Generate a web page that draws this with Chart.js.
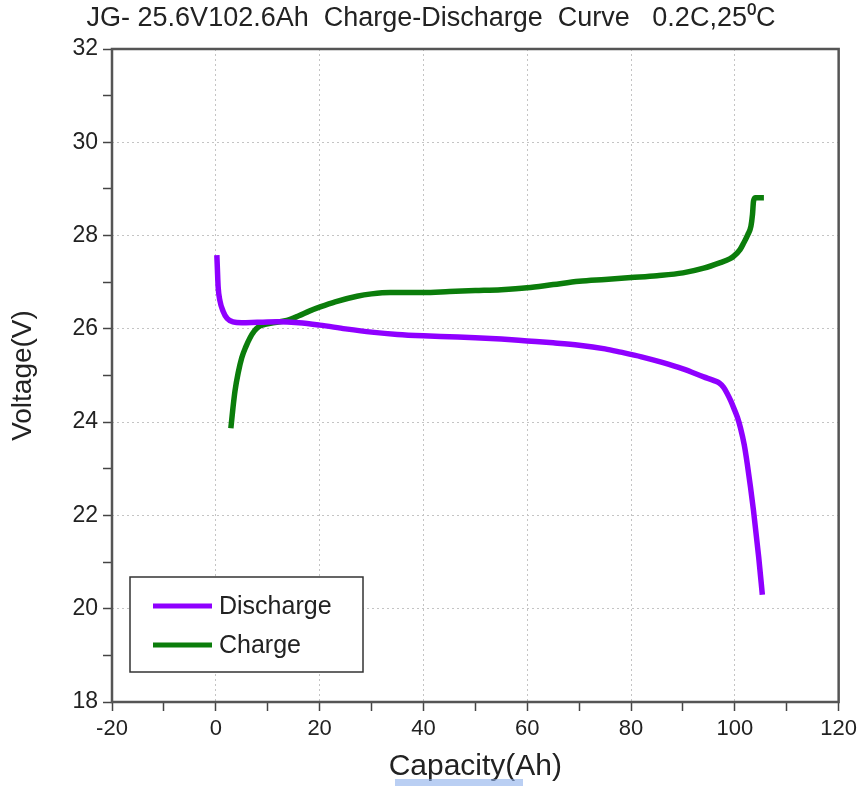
<!DOCTYPE html>
<html>
<head>
<meta charset="utf-8">
<title>JG- 25.6V102.6Ah Charge-Discharge Curve</title>
<script src="https://cdn.jsdelivr.net/npm/chart.js@4.4.0/dist/chart.umd.min.js"></script>
<style>
    html, body { margin: 0; padding: 0; background: #fff; }
    #wrap { position: relative; width: 862px; height: 789px; }
</style>
</head>
<body>
<div id="wrap"><canvas id="curveChart" width="862" height="789"></canvas></div>
<script>
// Charge / discharge curve of a 25.6V 102.6Ah pack

const chartTitle = 'JG- 25.6V102.6Ah  Charge-Discharge  Curve   0.2C,25\u2070C';
const xTitle = 'Capacity(Ah)';
const yTitle = 'Voltage(V)';

const xMin = -20, xMax = 120, xMajor = 20, xMinor = 10;
const yMin = 18, yMax = 32, yMajor = 2, yMinor = 1;

// Discharge: capacity (Ah) and voltage (V)
const dischargeCap = [0.2, 0.3, 0.45, 0.8, 1.4, 2.2, 3.3, 5, 8, 12, 16, 20, 25, 30, 35, 40, 45, 50, 55, 60,
    65, 70, 75, 78, 82, 86, 90, 94, 96, 97, 97.8, 98.5, 99.2, 99.8, 100.5, 101.1, 101.8, 102.4, 103.6, 104.6, 105.3];
const dischargeVolt = [27.58, 27.3, 26.9, 26.6, 26.38, 26.22, 26.15, 26.13, 26.14, 26.15, 26.13, 26.08, 26.0, 25.93, 25.88, 25.85, 25.83, 25.81, 25.78, 25.74,
    25.7, 25.65, 25.57, 25.5, 25.4, 25.28, 25.14, 24.97, 24.89, 24.84, 24.75, 24.62, 24.46, 24.3, 24.1, 23.87, 23.52, 23.1, 22.1, 21.1, 20.3];

// Charge: capacity (Ah) and voltage (V)
const chargeCap = [2.9, 3.3, 3.7, 4.3, 5.0, 5.8, 6.6, 7.4, 8.2, 9.3, 10.5, 13.7, 16, 18, 20.1, 23, 27.2, 30, 33.6, 40,
    45, 50, 55, 60, 65, 70, 75, 80, 85, 90, 94, 97.2, 99, 99.8, 101, 101.7, 102.5, 103.1, 103.4, 103.6, 104, 105.6];
const chargeVolt = [23.87, 24.3, 24.67, 25.05, 25.38, 25.62, 25.81, 25.95, 26.04, 26.09, 26.12, 26.18, 26.28, 26.38, 26.47, 26.58, 26.7, 26.75, 26.78, 26.78,
    26.8, 26.82, 26.84, 26.88, 26.95, 27.02, 27.06, 27.1, 27.14, 27.2, 27.3, 27.42, 27.5, 27.56, 27.7, 27.84, 28.02, 28.2, 28.45, 28.74, 28.81, 28.81];

const seriesNames = ['Discharge', 'Charge'];
const seriesColors = ['#8f00ff', '#0b7d0b'];

const FONT = "'Liberation Sans', Arial, sans-serif";

function toPoints(xs, ys) {
    return xs.map((x, i) => ({ x: x, y: ys[i] }));
}

// Title across the top of the canvas
const titlePlugin = {
    id: 'topTitle',
    afterDraw(chart) {
        const ctx = chart.ctx;
        ctx.save();
        ctx.fillStyle = '#222';
        ctx.font = '27px ' + FONT;
        ctx.textAlign = 'center';
        ctx.textBaseline = 'middle';
        ctx.fillText(chartTitle, 431, 19);
        // light blue spell-check mark under the x title
        ctx.fillStyle = 'rgba(140, 175, 235, 0.6)';
        ctx.fillRect(395, 779, 128, 7);
        ctx.restore();
    }
};

// Plot frame on all four sides
const framePlugin = {
    id: 'frame',
    afterDatasetsDraw(chart) {
        const a = chart.chartArea;
        const ctx = chart.ctx;
        ctx.save();
        ctx.strokeStyle = '#555';
        ctx.lineWidth = 2.5;
        ctx.strokeRect(a.left, a.top, a.right - a.left, a.bottom - a.top);
        ctx.restore();
    }
};

// Boxed legend in the lower left of the plot
const boxLegendPlugin = {
    id: 'boxLegend',
    afterDraw(chart) {
        const ctx = chart.ctx;
        const x = 130, y = 577, w = 233, h = 95;
        ctx.save();
        ctx.fillStyle = '#fff';
        ctx.fillRect(x, y, w, h);
        ctx.strokeStyle = '#333';
        ctx.lineWidth = 1.5;
        ctx.strokeRect(x, y, w, h);
        chart.data.datasets.forEach((ds, i) => {
            const ly = 606 + i * 39;
            ctx.strokeStyle = ds.borderColor;
            ctx.lineWidth = 5;
            ctx.beginPath();
            ctx.moveTo(153, ly);
            ctx.lineTo(212, ly);
            ctx.stroke();
            ctx.fillStyle = '#222';
            ctx.font = '25px ' + FONT;
            ctx.textAlign = 'left';
            ctx.textBaseline = 'middle';
            ctx.fillText(ds.label, 219, ly + 1);
        });
        ctx.restore();
    }
};

const ctx = document.getElementById('curveChart');

new Chart(ctx, {
    type: 'scatter',
    data: {
        datasets: [
            {
                label: seriesNames[0],
                data: toPoints(dischargeCap, dischargeVolt),
                borderColor: seriesColors[0],
                backgroundColor: seriesColors[0],
                borderWidth: 5.5,
                showLine: true,
                pointRadius: 0,
                cubicInterpolationMode: 'monotone'
            },
            {
                label: seriesNames[1],
                data: toPoints(chargeCap, chargeVolt),
                borderColor: seriesColors[1],
                backgroundColor: seriesColors[1],
                borderWidth: 5.5,
                showLine: true,
                pointRadius: 0,
                cubicInterpolationMode: 'monotone'
            }
        ]
    },
    options: {
        responsive: false,
        animation: false,
        devicePixelRatio: 1,
        layout: {
            padding: { top: 49, right: 23, left: 0, bottom: 0 }
        },
        plugins: {
            legend: { display: false },
            tooltip: { enabled: false }
        },
        scales: {
            x: {
                type: 'linear',
                min: xMin,
                max: xMax,
                afterFit(scale) { scale.height = 87; },
                ticks: {
                    stepSize: xMinor,
                    autoSkip: false,
                    maxRotation: 0,
                    padding: 5,
                    color: '#222',
                    font: { family: FONT, size: 22 },
                    callback: v => (v % xMajor === 0 ? v : '')
                },
                grid: {
                    color: c => (c.tick && c.tick.value % xMajor === 0 ? '#c4c4c4' : 'rgba(0,0,0,0)'),
                    lineWidth: 1,
                    tickColor: '#444',
                    tickWidth: 1.5,
                    tickLength: 9
                },
                border: { display: false, dash: [2, 3] },
                title: {
                    display: true,
                    text: xTitle,
                    color: '#222',
                    font: { family: FONT, size: 30, lineHeight: 1 },
                    padding: { top: 0, bottom: 7 }
                }
            },
            y: {
                type: 'linear',
                min: yMin,
                max: yMax,
                afterFit(scale) { scale.width = 112; },
                ticks: {
                    stepSize: yMinor,
                    autoSkip: false,
                    padding: 5,
                    color: '#222',
                    font: { family: FONT, size: 23 },
                    callback: v => (v % yMajor === 0 ? v : '')
                },
                grid: {
                    color: c => (c.tick && c.tick.value % yMajor === 0 ? '#c4c4c4' : 'rgba(0,0,0,0)'),
                    lineWidth: 1,
                    tickColor: '#444',
                    tickWidth: 1.5,
                    tickLength: 9
                },
                border: { display: false, dash: [2, 3] },
                title: {
                    display: true,
                    text: yTitle,
                    color: '#222',
                    font: { family: FONT, size: 28, lineHeight: 1 },
                    padding: { top: 9, bottom: 0 }
                }
            }
        }
    },
    plugins: [titlePlugin, framePlugin, boxLegendPlugin]
});
</script>
</body>
</html>
